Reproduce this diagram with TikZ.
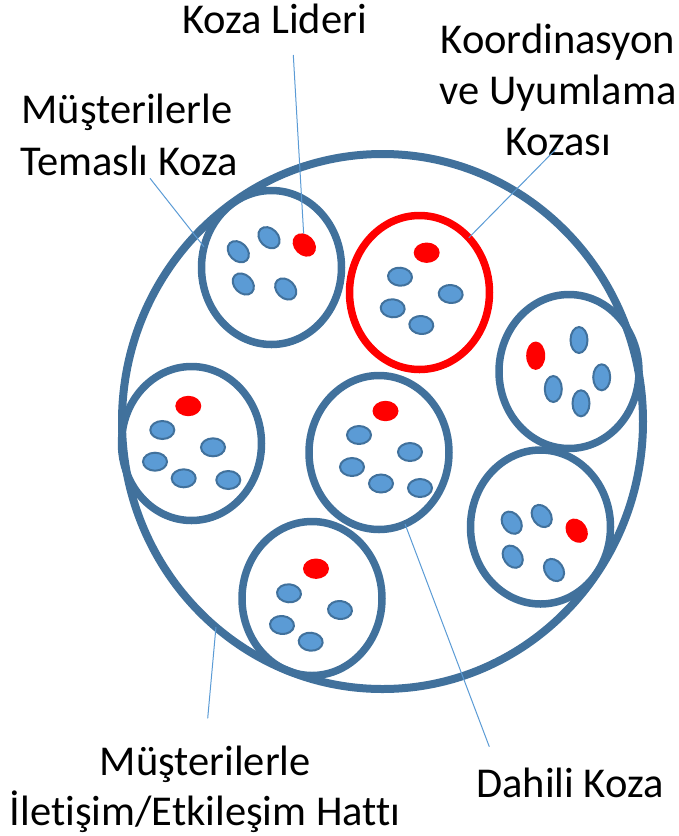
\documentclass[tikz,border=0pt]{standalone}
\usepackage{fontspec}
\setmainfont[Ligatures=NoCommon]{Carlito}
\usetikzlibrary{shapes.geometric}
\definecolor{ringblue}{HTML}{41719C}
\definecolor{dotblue}{HTML}{5B9BD5}
\definecolor{leadblue}{HTML}{5B9BD5}
\tikzset{
  koza/.style={ellipse, draw=ringblue, line width=7.5pt, minimum width=140pt, minimum height=154pt, inner sep=0pt, outer sep=0pt},
  kozared/.style={koza, draw=red},
  member/.style={ellipse, draw=ringblue, fill=dotblue, line width=2pt, minimum width=24pt, minimum height=18pt, inner sep=0pt, outer sep=0pt},
  chief/.style={ellipse, fill=red, minimum width=26pt, minimum height=20.4pt, inner sep=0pt, outer sep=0pt},
  vmember/.style={member, minimum width=26pt, minimum height=17pt, rotate=90},
  vchief/.style={chief, minimum width=28.4pt, minimum height=19pt, rotate=90},
  lbl/.style={font=\fontsize{42.5}{51.5}\selectfont, inner sep=0pt, anchor=base},
  lead/.style={draw=leadblue, line width=1pt},
}
\begin{document}
\begin{tikzpicture}[x=1pt,y=-1pt]
\useasboundingbox (0,0) rectangle (679,836);

% outer line
\node[ellipse, draw=ringblue, line width=8pt, minimum width=521pt, minimum height=535pt, inner sep=0pt, outer sep=0pt] (big) at (382.5,421.5) {};

% cocoons
\node[koza] (c1) at (271.5,267.5) {};
\node[kozared] (c2) at (419.5,292.5) {};
\node[koza] (c3) at (569,371.5) {};
\node[koza] (c4) at (191.5,443.5) {};
\node[koza] (c5) at (379,452.5) {};
\node[koza] (c6) at (540.5,527) {};
\node[koza] (c7) at (312,598.5) {};

% cocoon 1
\node[member, rotate=-45] (m1a) at (238.3,251.7) {};
\node[member, rotate=-45] (m1b) at (269,237.7) {};
\node[member, rotate=-45] (m1c) at (243.3,284) {};
\node[member, rotate=-45] (m1d) at (285.7,289) {};
\node[chief, rotate=-45] (r1) at (304.3,245) {};

% cocoon 2
\node[chief] (r2) at (426.7,252.7) {};
\node[member, rotate=-5] (m2a) at (400,276.7) {};
\node[member, rotate=-5] (m2b) at (450.7,294) {};
\node[member, rotate=-5] (m2c) at (392.7,308.3) {};
\node[member, rotate=-5] (m2d) at (421.3,325) {};

% cocoon 3
\node[vchief] (r3) at (535.7,355.7) {};
\node[vmember] (m3a) at (579,340) {};
\node[vmember] (m3b) at (601.7,377.3) {};
\node[vmember] (m3c) at (553.3,389) {};
\node[vmember] (m3d) at (581,403.3) {};

% cocoon 4
\node[chief] (r4) at (188.3,406) {};
\node[member] (m4a) at (162.3,430) {};
\node[member] (m4b) at (213,447.3) {};
\node[member] (m4c) at (155,461.7) {};
\node[member] (m4d) at (183.7,478.3) {};
\node[member] (m4e) at (228.3,480) {};

% cocoon 5
\node[chief] (r5) at (385.5,411) {};
\node[member] (m5a) at (359,435) {};
\node[member] (m5b) at (410,452) {};
\node[member] (m5c) at (352,467) {};
\node[member] (m5d) at (381,483.5) {};
\node[member] (m5e) at (420,488) {};

% cocoon 6
\node[member, rotate=-55] (m6a) at (511.7,522.7) {};
\node[member, rotate=-55] (m6b) at (541.7,516) {};
\node[member, rotate=-55] (m6c) at (512.7,556.7) {};
\node[member, rotate=-55] (m6d) at (554,570) {};
\node[chief, rotate=-55] (r6) at (576.7,530.7) {};

% cocoon 7
\node[chief] (r7) at (316,568.7) {};
\node[member, rotate=-5] (m7a) at (289,593.3) {};
\node[member, rotate=-5] (m7b) at (340,610) {};
\node[member, rotate=-5] (m7c) at (282,625) {};
\node[member, rotate=-5] (m7d) at (310.7,641.7) {};

% labels
\node[lbl] (kl) at (274.5,33.3) {Koza Lideri};
\node[lbl] (mt1) at (127,123.3) {Müşterilerle};
\node[lbl] (mt2) at (129,175) {Temaslı Koza};
\node[lbl] (ko1) at (558,53.3) {Koordinasyon};
\node[lbl] (ko2) at (558,104) {ve Uyumlama};
\node[lbl] (ko3) at (558,155) {Kozası};
\node[lbl] (mi1) at (205.3,775) {Müşterilerle};
\node[lbl] (mi2) at (205,825) {İletişim/Etkileşim Hattı};
\node[lbl] (dk) at (570,797) {Dahili Koza};

% leader ends
\coordinate (klend) at (293.3,55);
\coordinate (mtend) at (150,178.3);
\coordinate (koend) at (556.7,148.3);
\coordinate (miend) at (207.7,718.3);
\coordinate (dkend) at (489.3,746.7);

\draw[lead] (klend) -- (r1);
\draw[lead] (mtend) -- (c1.163);
\draw[lead] (koend) -- (c2.48);
\draw[lead] (big.231) -- (miend);
\draw[lead] (c5.290) -- (dkend);
\end{tikzpicture}
\end{document}
